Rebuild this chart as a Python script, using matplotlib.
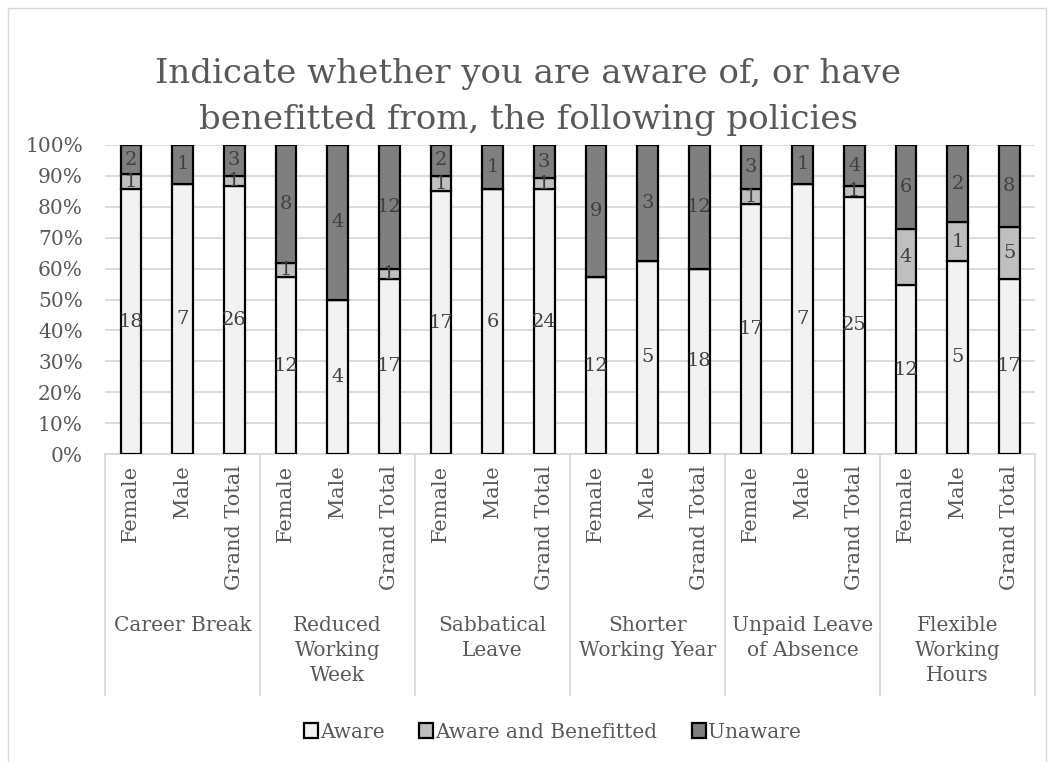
import numpy as np
import matplotlib.pyplot as plt
from matplotlib.lines import Line2D
from matplotlib.patches import Rectangle

plt.rcParams['font.family'] = ['DejaVu Serif']

groups = ['Career Break', 'Reduced\nWorking\nWeek', 'Sabbatical\nLeave',
          'Shorter\nWorking Year', 'Unpaid Leave\nof Absence', 'Flexible\nWorking\nHours']
subs = ['Female', 'Male', 'Grand Total']

aware = [18, 7, 26, 12, 4, 17, 17, 6, 24, 12, 5, 18, 17, 7, 25, 12, 5, 17]
benefitted = [1, 0, 1, 1, 0, 1, 1, 0, 1, 0, 0, 0, 1, 0, 1, 4, 1, 5]
unaware = [2, 1, 3, 8, 4, 12, 2, 1, 3, 9, 3, 12, 3, 1, 4, 6, 2, 8]

series = [('Aware', aware, '#F2F2F2'),
          ('Aware and Benefitted', benefitted, '#BFBFBF'),
          ('Unaware', unaware, '#7F7F7F')]

txt = '#595959'
grid = '#D9D9D9'

fig = plt.figure(figsize=(10.52, 7.62), dpi=100)
ax = fig.add_axes([105/1052, 1 - 454/762, 930/1052, 309/762])

x = np.arange(len(aware))
total = np.array(aware) + np.array(benefitted) + np.array(unaware)
bottom = np.zeros(len(x))
for name, vals, col in series:
    pct = np.array(vals) / total
    ax.bar(x, pct, 0.4, bottom=bottom, color=col, edgecolor='black', linewidth=1.6,
           label=name, zorder=3)
    for xi, v, p, b in zip(x, vals, pct, bottom):
        if v > 0:
            ax.text(xi, b + p / 2, str(v), ha='center', va='center', fontsize=14,
                    color='#404040', zorder=4)
    bottom += pct

ax.set_xlim(-0.5, len(x) - 0.5)
ax.set_ylim(0, 1)
ax.set_yticks(np.arange(0, 1.01, 0.1))
ax.set_yticklabels([f'{int(round(v*100))}%' for v in np.arange(0, 1.01, 0.1)])
ax.yaxis.grid(True, color=grid, linewidth=1.3, zorder=0)
ax.tick_params(axis='y', length=0, pad=16, labelsize=14.5, labelcolor=txt)
ax.set_xticks(x)
ax.set_xticklabels(subs * len(groups), rotation=90)
ax.tick_params(axis='x', length=0, pad=8, labelsize=15, labelcolor=txt)
for s in ['top', 'right', 'left']:
    ax.spines[s].set_visible(False)
ax.spines['bottom'].set_color(grid)
ax.spines['bottom'].set_linewidth(1.3)

# group separators and labels
ylow = (454 - 695) / 309
for k in range(len(groups) + 1):
    xs = k * 3 - 0.5
    ax.add_line(Line2D([xs, xs], [0, ylow], color=grid, linewidth=1.3,
                       transform=ax.get_xaxis_transform(), clip_on=False))
for k, g in enumerate(groups):
    ax.text(k * 3 + 1, (454 - 616) / 309, g, ha='center', va='top', fontsize=14.5,
            color=txt, transform=ax.get_xaxis_transform(), linespacing=1.4)

fig.text(0.502, 1 - 58/762, 'Indicate whether you are aware of, or have\nbenefitted from, the following policies',
         ha='center', va='top', fontsize=24.5, color=txt, linespacing=1.55)

fig.legend(loc='center', bbox_to_anchor=(0.525, 1 - 732/762), ncol=3, frameon=False,
           fontsize=14.5, labelcolor=txt, handlelength=0.7, handleheight=0.7,
           handletextpad=0.1, columnspacing=1.7)

fig.patches.append(Rectangle((8/1052, -0.01), 1038/1052, 1 - 8/762 + 0.01, transform=fig.transFigure,
                             fill=False, edgecolor=grid, linewidth=1))

fig.savefig('out.png', dpi=100)
